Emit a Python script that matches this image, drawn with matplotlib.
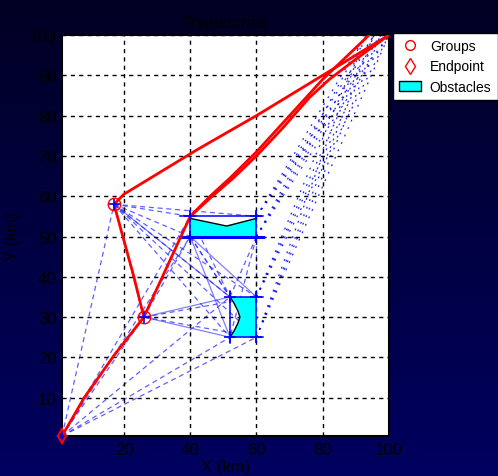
import numpy as np
import matplotlib
matplotlib.use('Agg')
import matplotlib.pyplot as plt
from matplotlib.lines import Line2D
from matplotlib.patches import Patch, Polygon
from matplotlib.colors import LinearSegmentedColormap

plt.rcParams['font.family'] = ['Liberation Sans', 'DejaVu Sans']

# nodes of the visibility graph
start = (1.3, 0.5)
groups = [(17, 58), (26, 30)]
goals = [(93, 100), (95.5, 100), (97.5, 100), (100, 100)]
corners1 = [(40, 50), (40, 55), (60, 50), (60, 55)]
corners2 = [(52, 25), (52, 35), (60, 25), (60, 35)]

# obstacle outlines
obst1 = [(40, 50), (60, 50), (60, 54.5), (51, 52.6), (40, 54.5)]
obst2_curve_x = [52, 53.2, 54.4, 55.0, 54.4, 53.2, 52]
obst2_curve_y = [35, 33.5, 31.5, 30, 28.5, 26.5, 25]

# dashed candidate links
links_dashed = [
    (start, (17, 58)), (start, (26, 30)), (start, (40, 50)), (start, (40, 55)),
    (start, (52, 35)), (start, (52, 25)), (start, (60, 25)),
    ((17, 58), (40, 55)), ((17, 58), (60, 55)), ((17, 58), (40, 50)), ((17, 58), (52, 35)),
    ((17, 58), (52, 25)), ((17, 58), (60, 35)), ((17, 58), (60, 25)), ((17, 58), (26, 30)),
    ((26, 30), (40, 50)), ((26, 30), (40, 55)), ((26, 30), (60, 35)), ((26, 30), (60, 25)),
    ((40, 50), (52, 35)), ((40, 50), (60, 25)), ((40, 55), (52, 35)),
    ((60, 50), (52, 35)), ((60, 50), (52, 25)), ((60, 50), (60, 35)),
]
# solid links
links_solid = [
    ((26, 30), (52, 35)), ((26, 30), (52, 25)), ((40, 50), (52, 25)),
    ((40, 50), (60, 35)), ((17, 58), (52, 35)),
]
# right-hand corners towards the goal area
exit_nodes = [(60, 55), (60, 50), (60, 35), (60, 25)]

# group trajectories
traj1_x = [1.3, 8, 17, 26, 23, 20, 17, 20, 31, 42, 60, 80, 90, 100]
traj1_y = [0.5, 10, 20.5, 30, 40, 49, 58, 60.5, 66, 71.5, 80, 90, 95, 100]
traj2_x = [26, 33, 40, 46, 52, 60, 70, 80, 87, 94]
traj2_y = [30, 42.5, 55, 60, 64.5, 71, 80, 89, 94.5, 100]
traj3_x = [40, 46, 53, 60, 68, 76, 82, 90, 100]
traj3_y = [55, 59.5, 64.5, 70, 77, 84.5, 89, 94, 100]

W, H = 498, 477
fig = plt.figure(figsize=(W / 100, H / 100), dpi=100)

# navy gradient background
bg = fig.add_axes([0, 0, 1, 1])
grad = np.linspace(0, 1, 256).reshape(-1, 1)
cmap = LinearSegmentedColormap.from_list('navy', ['#000024', '#000060'])
bg.imshow(grad, aspect='auto', cmap=cmap, extent=[0, 1, 0, 1], origin='upper')
bg.set_axis_off()

ax = fig.add_axes([62 / W, 1 - 437 / H, (389 - 62) / W, (437 - 36) / H])
ax.set_facecolor('white')

blue = '#2a2aff'
for (p, q) in links_dashed:
    ax.plot([p[0], q[0]], [p[1], q[1]], color=blue, lw=0.9, ls=(0, (4, 3)), alpha=0.75, zorder=2)
for (p, q) in links_solid:
    ax.plot([p[0], q[0]], [p[1], q[1]], color=blue, lw=0.9, alpha=0.6, zorder=2)
for p in exit_nodes:
    for g in goals:
        ax.plot([p[0], g[0]], [p[1], g[1]], color='#0000ee', lw=0.9,
                ls=(0, (1.5, 5)), alpha=0.85, zorder=2)

# obstacles
ax.add_patch(Polygon(obst1, closed=True, facecolor='cyan', edgecolor='none', zorder=3))
ax.plot([40, 51, 60], [54.5, 52.6, 54.5], color='black', lw=1, zorder=4)
xs2 = obst2_curve_x + [60, 60]
ys2 = obst2_curve_y + [25, 35]
ax.add_patch(Polygon(list(zip(xs2, ys2)), closed=True, facecolor='cyan', edgecolor='none', zorder=3))
ax.plot(obst2_curve_x, obst2_curve_y, color='black', lw=1, zorder=4)

ax.plot([37, 62], [50, 50], color='#0000ff', lw=2.2, zorder=4)
ax.plot([37, 62], [55, 55], color='#0000ff', lw=1.1, zorder=4)
ax.plot([40, 40], [49, 56], color='#0000ff', lw=1.1, zorder=4)
ax.plot([60, 60], [49, 56], color='#0000ff', lw=1.1, zorder=4)
ax.plot([52, 62], [35, 35], color='#0000ff', lw=1.1, zorder=4)
ax.plot([52, 62], [25, 25], color='#0000ff', lw=1.1, zorder=4)
ax.plot([52, 52], [23.5, 36.5], color='#0000ff', lw=1.1, zorder=4)
ax.plot([60, 60], [24, 36], color='#0000ff', lw=1.1, zorder=4)

for tx, ty in [(traj1_x, traj1_y), (traj2_x, traj2_y), (traj3_x, traj3_y)]:
    ax.plot(tx, ty, color='#ff0000', lw=2.0, zorder=5)

nodes = corners1 + corners2 + groups + [start]
ax.plot([n[0] for n in nodes], [n[1] for n in nodes], ls='none', marker='+',
        color='#0000ff', ms=8, mew=1.2, zorder=6, clip_on=False)
ax.plot([g[0] for g in groups], [g[1] for g in groups], ls='none', marker='o',
        mfc='none', mec='#ff0000', ms=9, mew=1.0, zorder=6)
ax.plot([start[0]], [start[1]], ls='none', marker='d', mfc='none', mec='#ff0000',
        ms=7, mew=1.5, zorder=7, clip_on=False)

ax.set_xlim(start[0], 100)
ax.set_ylim(start[1], 100)
ax.set_xticks([20, 40, 60, 80, 100])
ax.set_yticks([10, 20, 30, 40, 50, 60, 70, 80, 90, 100])
ax.tick_params(direction='in', length=0, labelsize=12, colors='black', pad=4)
ax.grid(True, color='black', ls=(0, (3, 3)), lw=1.0)
ax.set_axisbelow(False)
for s in ax.spines.values():
    s.set_color('black')
    s.set_linewidth(1.5)

ax.set_title('Trajectories', color='black', fontsize=12, pad=6)
ax.set_xlabel('X (km)', color='black', fontsize=12, labelpad=2)
ax.set_ylabel('Y (km)', color='black', fontsize=12, labelpad=6)

handles = [
    Line2D([], [], ls='none', marker='o', mfc='none', mec='#ff0000', ms=7),
    Line2D([], [], ls='none', marker='d', mfc='none', mec='#ff0000', ms=8),
    Patch(facecolor='cyan', edgecolor='black'),
]
leg = fig.legend(handles, ['Groups', 'Endpoint', 'Obstacles'],
                 loc='upper left', bbox_to_anchor=(393 / W, 1 - 34 / H),
                 fontsize=10, frameon=True, fancybox=False, borderpad=0.45,
                 labelspacing=0.45, handlelength=1.6, handletextpad=0.6,
                 borderaxespad=0)
leg.get_frame().set_edgecolor('black')
leg.get_frame().set_linewidth(1.0)
leg.get_frame().set_alpha(1.0)

fig.savefig('out.png', dpi=100)
